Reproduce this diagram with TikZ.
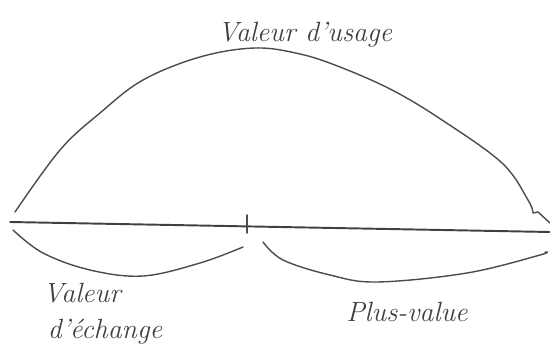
\documentclass[tikz,border=0pt]{standalone}
\usepackage{tikz}
\usetikzlibrary{positioning}

\tikzset{
  pencil/.style={draw=black!70, line width=0.8pt, line cap=round, line join=round},
  axe/.style={draw=black!75, line width=1.1pt, line cap=round},
  label/.style={text=black!75, font=\Large\itshape, scale=1.1, inner sep=1pt}
}

\begin{document}
\begin{tikzpicture}[x=0.02cm, y=-0.02cm]
\useasboundingbox (0,0) rectangle (550,351);

% main line and its mark
\coordinate (L) at (10,222);
\coordinate (R) at (550,232);
\coordinate (T1) at (247,215);
\coordinate (T2) at (247,233);

\draw[axe] (L) -- (R);
\draw[pencil, line width=0.9pt] (T1) -- (T2);

% top arc
\coordinate (U0) at (15,212);
\coordinate (U1) at (550,223);
\draw[pencil] plot[smooth, tension=0.6] coordinates {(U0) (60,150) (100,113) (143,80) (200,57) (255,48) (300,54) (340,67) (392,90) (442,120) (502,163) (528,200) (533,213)}
  -- (538,212) -- (U1);

% bottom arcs
\coordinate (E0) at (13,230);
\coordinate (E1) at (243,247);
\draw[pencil] plot[smooth, tension=0.6] coordinates {(E0) (43,253) (90,270) (143,276) (200,263) (E1)};

\coordinate (P0) at (263,242);
\coordinate (P1) at (545,252);
\draw[pencil] plot[smooth, tension=0.6] coordinates {(P0) (283,260) (330,275) (377,282) (467,273) (540,255) (P1)};

% texts
\node[label] (usage) at (305,35) {Valeur d'usage};
\node[label] (val) at (82,293) {Valeur};
\node[label] (echange) at (105,332) {d'échange};
\node[label] (plus) at (407,312) {Plus-value};
\end{tikzpicture}
\end{document}
